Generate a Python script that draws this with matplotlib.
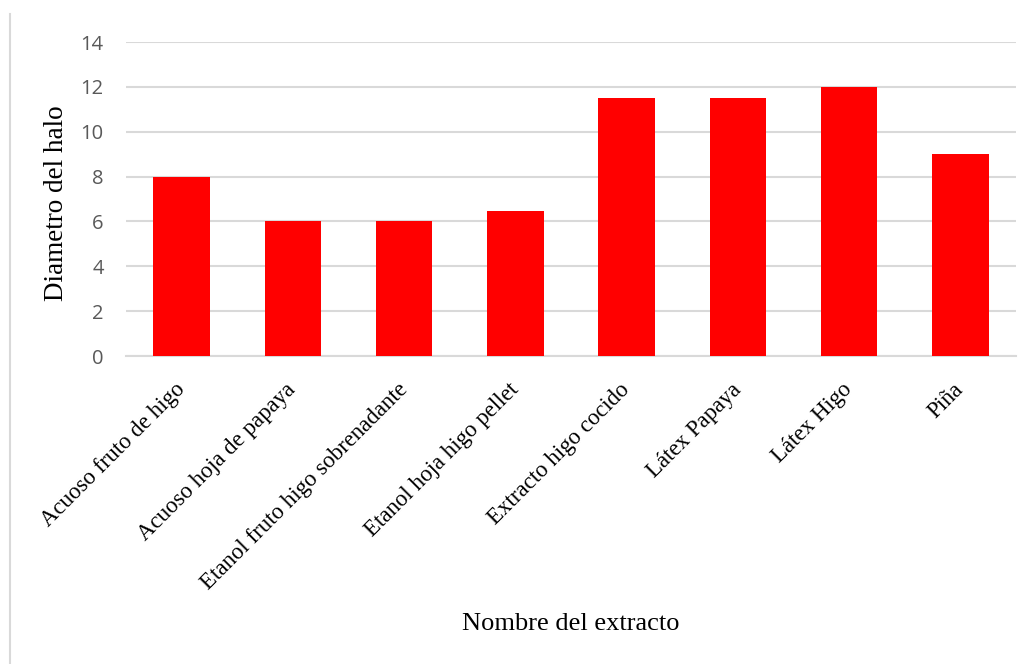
import matplotlib
matplotlib.use("Agg")
import matplotlib.pyplot as plt
from matplotlib.lines import Line2D

categories = ["Acuoso fruto de higo", "Acuoso hoja de papaya", "Etanol fruto higo sobrenadante",
              "Etanol hoja higo pellet", "Extracto higo cocido", "Látex Papaya", "Látex Higo", "Piña"]
values = [8, 6, 6, 6.45, 11.5, 11.5, 12, 9]
yticks = [0, 2, 4, 6, 8, 10, 12, 14]

fig = plt.figure(figsize=(10.35, 6.64), dpi=100)
ax = fig.add_axes([126/1035, 1-356/664, (1016-126)/1035, (356-42)/664])
x = list(range(len(categories)))
ax.bar(x, values, width=0.51, color="#ff0000", zorder=3)
ax.set_xlim(-0.5, len(categories)-0.5)
ax.set_ylim(0, 14)
ax.set_yticks(yticks)
ax.set_yticklabels([str(t) for t in yticks], fontsize=14.5, color="#595959", family="Open Sans")
ax.yaxis.grid(True, color="#d9d9d9", linewidth=1.5, zorder=0)
ax.tick_params(axis="y", length=0, pad=16)
ax.tick_params(axis="x", length=0, pad=22)
ax.set_xticks(x)
ax.set_xticklabels(categories, rotation=45, ha="right", va="center", rotation_mode="anchor",
                   fontsize=16.5, family="Liberation Serif")
for s in ["top", "right", "left"]:
    ax.spines[s].set_visible(False)
ax.spines["bottom"].set_color("#d9d9d9")
ax.spines["bottom"].set_linewidth(1.5)
ax.set_axisbelow(True)

fig.text(57/1035, 1-203/664, "Diametro del halo", rotation=90, ha="center", va="center",
         fontsize=19.5, family="Liberation Serif")
fig.text(571/1035, 1-624/664, "Nombre del extracto", ha="center", va="center",
         fontsize=19, family="Liberation Serif")
fig.add_artist(Line2D([10/1035, 10/1035], [0, 1-14/664], color="#d9d9d9", linewidth=1.5,
                      transform=fig.transFigure))
fig.savefig("out.png", dpi=100)
